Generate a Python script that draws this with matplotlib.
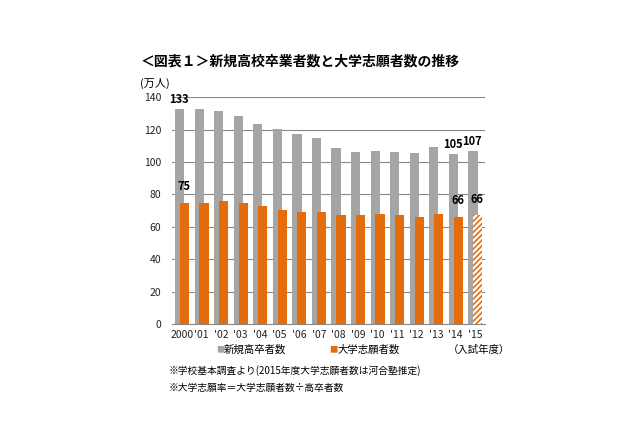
import matplotlib
matplotlib.use('Agg')
from matplotlib import pyplot as plt
import numpy as np

plt.rcParams['font.family'] = ['Noto Sans CJK JP', 'DejaVu Sans']
plt.rcParams['hatch.linewidth'] = 1.2

##### DATA #####
years = ['2000', "'01", "'02", "'03", "'04", "'05", "'06", "'07",
         "'08", "'09", "'10", "'11", "'12", "'13", "'14", "'15"]
graduates = [132.8, 132.8, 131.6, 128.1, 123.6, 120.3, 117.4, 114.9,
             108.8, 106.3, 106.9, 106.3, 105.7, 109.4, 105.1, 106.9]
applicants = [74.8, 74.8, 75.7, 74.4, 72.6, 70.1, 69.3, 69.3,
              67.0, 67.0, 68.1, 67.4, 66.2, 68.1, 66.2, 67.0]
grad_labels = {0: '133', 14: '105', 15: '107'}
appl_labels = {0: '75', 14: '66', 15: '66'}
##### END DATA #####

gray = '#A5A5A5'
orange = '#E46C0A'

fig = plt.figure(figsize=(6.4, 4.26), dpi=100)
ax = fig.add_axes([0.269, 0.2394, 0.489, 0.5326])

x = np.arange(len(years))
w = 0.47
ax.bar(x - 0.12, graduates, w, color=gray, zorder=2)
ax.bar(x[:-1] + 0.13, applicants[:-1], w, color=orange, zorder=3)
# 2015 is an estimate -> hatched bar
ax.bar(x[-1] + 0.13, applicants[-1], w, color='white', edgecolor=orange,
       hatch='//////', linewidth=0, zorder=3)

for i, t in grad_labels.items():
    ax.text(x[i] - 0.15, graduates[i] + 1.5, t, ha='center', va='bottom',
            fontsize=8, fontweight='bold')
for i, t in appl_labels.items():
    ax.text(x[i] + 0.1, applicants[i] + 6, t, ha='center', va='bottom',
            fontsize=8, fontweight='bold')

ax.set_xlim(-0.5, 15.5)
ax.set_ylim(0, 140)
ax.set_yticks(range(0, 141, 20))
ax.set_xticks(x)
ax.set_xticklabels(years)
ax.tick_params(axis='both', length=0, labelsize=7.5, colors='#222222')
ax.tick_params(axis='x', pad=4)
ax.tick_params(axis='y', pad=8)
for s in ['left', 'right', 'top']:
    ax.spines[s].set_visible(False)
ax.spines['bottom'].set_color('#888888')
ax.yaxis.grid(True, color='#888888', linewidth=0.8, zorder=0)
ax.set_axisbelow(True)

fig.text(0.219, 0.855, '＜図表１＞新規高校卒業者数と大学志願者数の推移',
         fontsize=10, fontweight='bold', va='center')
fig.text(0.219, 0.805, '(万人)', fontsize=8, va='center')

# legend-like row
fig.text(0.338, 0.178, '■', color=gray, fontsize=6, va='center')
fig.text(0.350, 0.178, '新規高卒者数', fontsize=7.5, va='center')
fig.text(0.515, 0.178, '■', color=orange, fontsize=6, va='center')
fig.text(0.527, 0.178, '大学志願者数', fontsize=7.5, va='center')
fig.text(0.700, 0.178, '（入試年度）', fontsize=7.5, va='center')

fig.text(0.263, 0.131, '※学校基本調査より(2015年度大学志願者数は河合塾推定)',
         fontsize=7, va='center')
fig.text(0.263, 0.090, '※大学志願率＝大学志願者数÷高卒者数',
         fontsize=7, va='center')

fig.savefig('out.png', dpi=100)
